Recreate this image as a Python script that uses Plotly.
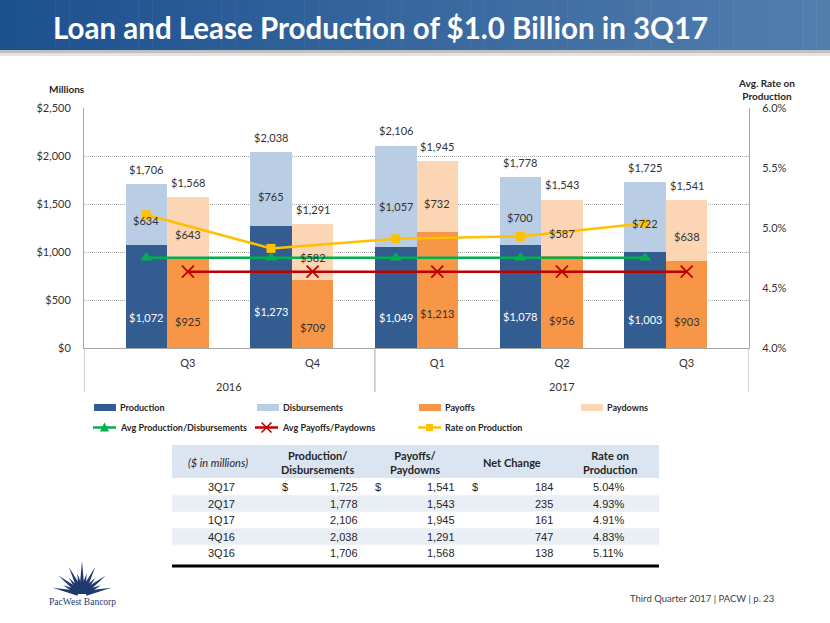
import math
import plotly.graph_objects as go

# ---------------- data ----------------
quarters = ["Q3", "Q4", "Q1", "Q2", "Q3"]
years = ["2016", "2017"]
production = [1072, 1273, 1049, 1078, 1003]
disbursements = [634, 765, 1057, 700, 722]
prod_total = [1706, 2038, 2106, 1778, 1725]
payoffs = [925, 709, 1213, 956, 903]
paydowns = [643, 582, 732, 587, 638]
pay_total = [1568, 1291, 1945, 1543, 1541]
avg_prod = [940, 940, 940, 940, 940]
avg_pay = [795, 795, 795, 795, 795]
rate = [5.11, 4.83, 4.91, 4.93, 5.04]

table_header = ["($ in millions)", "Production/<br>Disbursements", "Payoffs/<br>Paydowns",
                "Net Change", "Rate on<br>Production"]
table_period = ["3Q17", "2Q17", "1Q17", "4Q16", "3Q16"]
table_prod = ["1,725", "1,778", "2,106", "2,038", "1,706"]
table_pay = ["1,541", "1,543", "1,945", "1,291", "1,568"]
table_net = ["184", "235", "161", "747", "138"]
table_rate = ["5.04%", "4.93%", "4.91%", "4.83%", "5.11%"]

# ---------------- geometry helpers ----------------
W, H = 830, 623
PL, PR, PT, PB = 84, 749, 108, 348


def px(x):
    return (x - PL) / (PR - PL)


def py(y):
    return (PB - y) / (PB - PT)


FONT = "Lato"
DARK = "#333333"
C_PROD, C_DISB, C_PAYO, C_PAYD = "#335C91", "#B9CDE5", "#F79646", "#FCD5B5"
C_GREEN, C_RED, C_YEL = "#00B050", "#C00000", "#FFC000"

idx = list(range(len(quarters)))
x_prod = [i - 1 / 3 for i in idx]
x_pay = idx
BW = 1 / 3
LOW_F = 0.3   # label placement within lower segment
UP_F = 0.4    # label placement within upper segment


def money(v):
    return "${:,}".format(v)


annotations = []
shapes = []


def ann(x, y, text, font, xanchor="center", yanchor="middle", xref="paper", yref="paper", **kw):
    d = dict(x=x, y=y, xref=xref, yref=yref, text=text, showarrow=False,
             xanchor=xanchor, yanchor=yanchor, font=font)
    d.update(kw)
    annotations.append(d)


def pshape(**kw):
    d = dict(xref="paper", yref="paper")
    d.update(kw)
    shapes.append(d)


fig = go.Figure()

fig.add_trace(go.Bar(x=x_prod, y=production, width=BW, name="Production",
                     marker=dict(color=C_PROD, line=dict(width=0))))
fig.add_trace(go.Bar(x=x_prod, y=disbursements, width=BW, name="Disbursements",
                     marker=dict(color=C_DISB, line=dict(width=0))))
fig.add_trace(go.Bar(x=x_pay, y=payoffs, width=BW, name="Payoffs",
                     marker=dict(color=C_PAYO, line=dict(width=0))))
fig.add_trace(go.Bar(x=x_pay, y=paydowns, width=BW, name="Paydowns",
                     marker=dict(color=C_PAYD, line=dict(width=0))))

fig.add_trace(go.Scatter(x=x_prod, y=avg_prod, mode="lines+markers",
                         name="Avg Production/Disbursements",
                         line=dict(color=C_GREEN, width=2.5),
                         marker=dict(symbol="triangle-up", size=11, color=C_GREEN)))
fig.add_trace(go.Scatter(x=x_pay, y=avg_pay, mode="lines+markers",
                         name="Avg Payoffs/Paydowns",
                         line=dict(color=C_RED, width=2.5),
                         marker=dict(symbol="x-thin", size=12,
                                     line=dict(color=C_RED, width=1.8))))
fig.add_trace(go.Scatter(x=x_prod, y=rate, mode="lines+markers", yaxis="y2",
                         name="Rate on Production",
                         line=dict(color=C_YEL, width=2.5),
                         marker=dict(symbol="square", size=9, color=C_YEL)))

LBL = dict(family=FONT, size=11, color=DARK)
# segment labels
for xs, low, up, low_col in ((x_prod, production, disbursements, "white"),
                             (x_pay, payoffs, paydowns, DARK)):
    for xv, a, b in zip(xs, low, up):
        ann(xv, a * LOW_F, money(a), dict(family=FONT, size=11, color=low_col),
            xref="x", yref="y")
        ann(xv, a + b * UP_F, money(b), LBL, xref="x", yref="y")
# totals
for xs, ts in ((x_prod, prod_total), (x_pay, pay_total)):
    for xv, v in zip(xs, ts):
        ann(xv, v, money(v), LBL, xref="x", yref="y", yshift=15)

# year labels
ann((-5 / 6 + 1.5) / 2, py(386), years[0], LBL, xref="x")
ann((1.5 + 4.5) / 2, py(386), years[1], LBL, xref="x")
# category separators
for xv in (-5 / 6, 1.5, 4.5):
    shapes.append(dict(type="line", xref="x", yref="paper", x0=xv, x1=xv, y0=0, y1=py(392),
                       line=dict(color="#A6A6A6", width=1)))

# axis titles
AX_T = dict(family=FONT, size=10, color="#262626")
ann(px(67), py(89), "<b>Millions</b>", AX_T)
ann(px(766), py(89), "<b>Avg. Rate on<br>Production</b>", AX_T)

# ---------------- legend (drawn as annotations/shapes) ----------------
LEGF = dict(family=FONT, size=9, color="#262626")
names = [tr.name for tr in fig.data]
bar_cols = [C_PROD, C_DISB, C_PAYO, C_PAYD]
row1_x = [118, 281, 443, 605]
for name, col, tx in zip(names[:4], bar_cols, row1_x):
    pshape(type="rect", x0=px(tx - 24), x1=px(tx - 2), y0=py(411), y1=py(404),
           fillcolor=col, line=dict(width=0))
    ann(px(tx), py(407.5), "<b>%s</b>" % name, LEGF, xanchor="left")
row2_x = [118, 280, 443]
line_cols = [C_GREEN, C_RED, C_YEL]
for k, (name, col, tx) in enumerate(zip(names[4:], line_cols, row2_x)):
    yc = 427.5
    pshape(type="line", x0=px(tx - 25), x1=px(tx - 2), y0=py(yc), y1=py(yc),
           line=dict(color=col, width=2.5))
    mx = tx - 13.5
    if k == 0:
        pshape(type="path", path="M %f,%f L %f,%f L %f,%f Z" % (
            px(mx - 4.5), py(yc + 4), px(mx + 4.5), py(yc + 4), px(mx), py(yc - 5)),
            fillcolor=col, line=dict(width=0))
    elif k == 1:
        for s in (1, -1):
            pshape(type="line", x0=px(mx - 5), x1=px(mx + 5),
                   y0=py(yc - 5 * s), y1=py(yc + 5 * s),
                   line=dict(color=col, width=1.6))
    else:
        pshape(type="rect", x0=px(mx - 3.5), x1=px(mx + 3.5), y0=py(yc + 3.5),
               y1=py(yc - 3.5), fillcolor=col, line=dict(width=0))
    ann(px(tx), py(yc), "<b>%s</b>" % name, LEGF, xanchor="left")

# title band (stepped gradient)
n = 60
c0 = (28, 80, 142)
c1 = (82, 126, 174)
for k in range(n):
    t = k / (n - 1)
    col = tuple(int(round(c0[j] + (c1[j] - c0[j]) * t)) for j in range(3))
    pshape(type="rect", x0=px(W * k / n), x1=px(W * (k + 1) / n + 0.5),
           y0=py(50), y1=py(0), line=dict(width=0),
           fillcolor="rgb(%d,%d,%d)" % col, layer="below")
pshape(type="rect", x0=px(0), x1=px(W), y0=py(53), y1=py(50), line=dict(width=0),
       fillcolor="#BFBFBF", layer="below")
pshape(type="rect", x0=px(0), x1=px(W), y0=py(56), y1=py(53), line=dict(width=0),
       fillcolor="#E4E4E4", layer="below")
ann(px(51), py(27), "<b>Loan and Lease Production of $1.0 Billion in 3Q17</b>",
    dict(family=FONT, size=29.5, color="white"), xanchor="left")

# ---------------- table ----------------
TL, TR = 172, 659
pshape(type="rect", x0=px(TL), x1=px(TR), y0=py(478), y1=py(445), line=dict(width=0),
       fillcolor="#DBE5F1")
row_y = [487 + 16.5 * r for r in range(len(table_period))]
for r, yc in enumerate(row_y):
    if r % 2 == 1:
        pshape(type="rect", x0=px(TL), x1=px(TR), y0=py(yc + 8.25), y1=py(yc - 8.25),
               line=dict(width=0), fillcolor="#EAEFF6")
pshape(type="line", x0=px(TL), x1=px(TR), y0=py(566), y1=py(566),
       line=dict(color="black", width=3))

head_x = [218, 317, 415, 512, 610]
HF = dict(family=FONT, size=11, color="#262626")
for i, (hx, ht) in enumerate(zip(head_x, table_header)):
    txt = "<i>%s</i>" % ht if i == 0 else "<b>%s</b>" % ht
    ann(px(hx), py(462), txt, HF)
BF = dict(family="Liberation Sans", size=11, color="#262626")
for r, yc in enumerate(row_y):
    ann(px(221), py(yc), table_period[r], BF)
    for dollar_x, right_x, vals in ((280, 360, table_prod), (373, 457, table_pay),
                                    (470, 555, table_net)):
        if r == 0:
            ann(px(dollar_x), py(yc), "$", BF, xanchor="left")
        ann(px(right_x), py(yc), vals[r], BF, xanchor="right")
    ann(px(608), py(yc), table_rate[r], BF)

# footer
ann(px(776), py(598), "Third Quarter 2017 | PACW | p. 23",
    dict(family=FONT, size=9.5, color="#404040"), xanchor="right")

# logo starburst
cx, cy = 82, 594
NAVY = "#1F3A6E"
for k in range(13):
    ang = math.radians(12 + k * 13)
    L = 30 if k % 2 == 0 else 21
    if k == 6:
        L = 33
    r0, hw = 4, 2.6
    bx, by = cx + r0 * math.cos(ang), cy - r0 * math.sin(ang)
    nx, ny = -math.sin(ang), -math.cos(ang)
    tx, ty = cx + L * math.cos(ang), cy - L * math.sin(ang)
    p1 = (px(bx + hw * nx), py(by + hw * ny))
    p2 = (px(bx - hw * nx), py(by - hw * ny))
    p3 = (px(tx), py(ty))
    pshape(type="path", path="M %f,%f L %f,%f L %f,%f Z" % (p1 + p2 + p3),
           fillcolor=NAVY, line=dict(width=0))
semi = []
for k in range(13):
    a = math.radians(k * 15)
    semi.append((px(cx + 8 * math.cos(a)), py(cy - 8 * math.sin(a))))
pshape(type="path", path="M " + " L ".join("%f,%f" % p for p in semi) + " Z",
       fillcolor=NAVY, line=dict(width=0))
ann(px(82), py(602), "PacWest Bancorp",
    dict(family="Liberation Serif", size=9.5, color=NAVY))

fig.update_layout(
    width=W, height=H, autosize=False,
    margin=dict(l=PL, r=W - PR, t=PT, b=H - PB, pad=0),
    paper_bgcolor="white", plot_bgcolor="white",
    barmode="stack", bargap=0,
    showlegend=False,
    xaxis=dict(range=[-5 / 6, 4.5], tickmode="array", tickvals=idx, ticktext=quarters,
               showgrid=False, zeroline=False, showline=True, linecolor="#A6A6A6",
               linewidth=1, ticks="", ticklabelstandoff=5,
               tickfont=dict(family=FONT, size=11, color=DARK)),
    yaxis=dict(range=[0, 2500], dtick=500, tickprefix="$", tickformat=",d",
               showgrid=True, gridcolor="#A6A6A6", griddash="1px,1px", gridwidth=1,
               zeroline=False, showline=True, linecolor="#A6A6A6", linewidth=1,
               ticks="", ticklabelstandoff=10,
               tickfont=dict(family=FONT, size=11, color=DARK)),
    yaxis2=dict(range=[4.0, 6.0], dtick=0.5, tickformat=".1f", ticksuffix="%",
                overlaying="y", side="right", showgrid=False, zeroline=False,
                showline=True, linecolor="#A6A6A6", linewidth=1, ticks="",
                ticklabelstandoff=10,
                tickfont=dict(family=FONT, size=11, color=DARK)),
    annotations=annotations,
    shapes=shapes,
)

fig.write_html("out.html")
